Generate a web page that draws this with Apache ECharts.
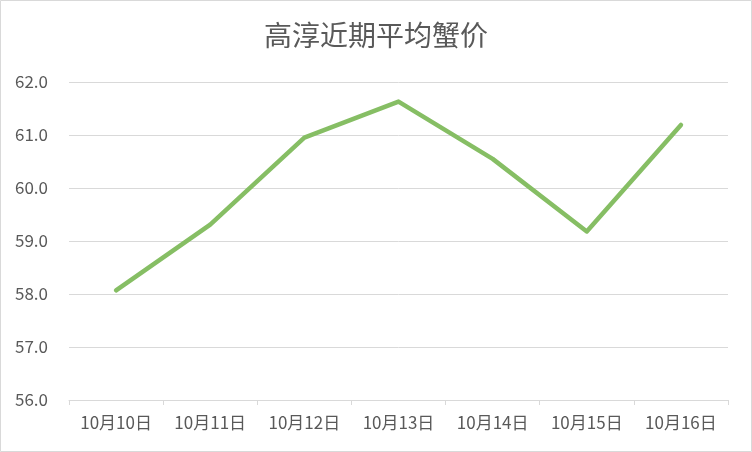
<!DOCTYPE html>
<html>
<head>
<meta charset="utf-8">
<script src="https://cdn.jsdelivr.net/npm/echarts@6/dist/echarts.min.js"></script>
<style>
html,body{margin:0;padding:0;background:#fff;}
#c{width:752px;height:452px;}
</style>
</head>
<body>
<div id="c"></div>
<script>
var titleText = '高淳近期平均蟹价';
var categories = ['10月10日','10月11日','10月12日','10月13日','10月14日','10月15日','10月16日'];
var prices = [58.07, 59.31, 60.95, 61.63, 60.55, 59.18, 61.19];
var yMin = 56, yMax = 62, yStep = 1;

var chart = echarts.init(document.getElementById('c'), null, {renderer:'canvas'});
var font = '"Microsoft YaHei","Noto Sans CJK SC","Noto Sans",sans-serif';
chart.setOption({
  animation:false,
  backgroundColor:'#ffffff',
  graphic:[{
    type:'rect', silent:true,
    shape:{x:0.5,y:0.5,width:751,height:451},
    style:{fill:'none',stroke:'#d9d9d9',lineWidth:1}
  }],
  title:{
    text:titleText, left:'center', top:16,
    textStyle:{fontFamily:font,fontSize:28,fontWeight:'normal',color:'#595959'}
  },
  grid:{left:69,right:24,top:82,bottom:52,containLabel:false},
  xAxis:{
    type:'category', data:categories, boundaryGap:true,
    axisLine:{lineStyle:{color:'#d9d9d9',width:1}},
    axisTick:{show:true,length:5,lineStyle:{color:'#d9d9d9'}},
    axisLabel:{fontFamily:font,fontSize:17,color:'#595959',margin:14}
  },
  yAxis:{
    type:'value', min:yMin, max:yMax, interval:yStep,
    axisLine:{show:false}, axisTick:{show:false},
    axisLabel:{fontFamily:font,fontSize:17,color:'#595959',margin:21,
      formatter:function(v){return v.toFixed(1);}},
    splitLine:{lineStyle:{color:'#d9d9d9',width:1}}
  },
  series:[{
    type:'line', data:prices, symbol:'none',
    lineStyle:{color:'#86be64',width:4.5,cap:'round',join:'round'},
    itemStyle:{color:'#86be64'}
  }]
});
</script>
</body>
</html>
